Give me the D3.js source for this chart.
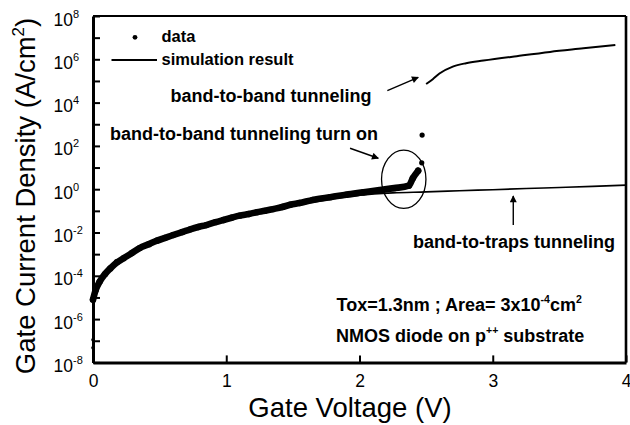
<!DOCTYPE html>
<html>
<head>
<meta charset="utf-8">
<script src="https://cdn.jsdelivr.net/npm/d3@7"></script>
<style>
  body { margin: 0; background: #fff; }
  svg { display: block; }
  text { font-family: "Liberation Sans", Arial, Helvetica, sans-serif; fill: #000; }
</style>
</head>
<body>
<svg id="chart" width="630" height="425"></svg>
<script>
// Measured gate current density (A/cm^2) vs gate voltage (V): dense sweep
const traceV = [0, 0.02, 0.05, 0.09, 0.13, 0.18, 0.23, 0.29, 0.35, 0.42, 0.48, 0.54, 0.60, 0.67, 0.73,
                0.79, 0.85, 0.92, 0.98, 1.04, 1.10, 1.17, 1.23, 1.29, 1.35, 1.42, 1.48, 1.55, 1.65, 1.78,
                1.90, 2.03, 2.15, 2.26, 2.37, 2.40, 2.44];
const traceJ = [7.9e-6, 2.2e-5, 5.4e-5, 1.2e-4, 2.2e-4, 4.2e-4, 6.5e-4, 1.1e-3, 1.9e-3, 2.9e-3, 4.2e-3,
                5.6e-3, 7.6e-3, 1.05e-2, 1.4e-2, 1.8e-2, 2.2e-2, 3.0e-2, 3.8e-2, 4.8e-2, 6.0e-2, 7.2e-2,
                8.7e-2, 0.10, 0.12, 0.15, 0.19, 0.23, 0.32, 0.43, 0.56, 0.72, 0.91, 1.12, 1.45, 3.2, 7.1];
// Separate measured points
const pointV = [0, 0, 2.467, 2.47];
const pointJ = [1.1e-7, 4.7e-8, 16.6, 316];

// Simulation: band-to-traps tunneling
const simTrapsV = [0, 0.05, 0.1, 0.2, 0.35, 0.5, 0.75, 1.0, 1.25, 1.5, 1.75, 2.0, 2.25, 2.5, 2.75,
                   3.0, 3.25, 3.5, 3.75, 4.0];
const simTrapsJ = [1e-5, 5.0e-5, 1.3e-4, 5.0e-4, 1.66e-3, 4.2e-3, 1.38e-2, 3.6e-2, 8.3e-2, 0.17,
                   0.32, 0.53, 0.68, 0.75, 0.85, 0.95, 1.07, 1.2, 1.35, 1.55];
// Simulation: band-to-band tunneling
const simBtbV = [2.50, 2.55, 2.60, 2.70, 2.80, 2.93, 3.18, 3.43, 3.68, 3.92];
const simBtbJ = [7.2e4, 1.2e5, 2.2e5, 4.6e5, 6.6e5, 8.7e5, 1.4e6, 2.2e6, 3.2e6, 4.6e6];

// Axis ticks
const xTicks = [0, 1, 2, 3, 4];
const yExponents = [-8, -7, -6, -5, -4, -3, -2, -1, 0, 1, 2, 3, 4, 5, 6, 7, 8];

const svg = d3.select("#chart");
const x = d3.scaleLinear().domain([0, 4]).range([93, 626]);
const y = d3.scaleLog().domain([1e-8, 1e8]).range([362.4, 16]);

// Arrowhead
svg.append("defs").append("marker")
  .attr("id", "head").attr("viewBox", "0 0 10 10")
  .attr("refX", 9).attr("refY", 5)
  .attr("markerWidth", 9).attr("markerHeight", 7)
  .attr("markerUnits", "userSpaceOnUse")
  .attr("orient", "auto")
  .append("path").attr("d", "M0,0 L10,5 L0,10 z").attr("fill", "#000");

// Simulation curves
const line = d3.line().x(d => x(d[0])).y(d => y(d[1])).curve(d3.curveMonotoneX);
svg.append("path")
  .attr("d", line(d3.zip(simTrapsV, simTrapsJ)))
  .attr("fill", "none").attr("stroke", "#000").attr("stroke-width", 1.6);
svg.append("path")
  .attr("d", line(d3.zip(simBtbV, simBtbJ)))
  .attr("fill", "none").attr("stroke", "#000").attr("stroke-width", 2);

// Measured data: the dense sweep merges into a solid band of dots
const smooth = d3.line().x(d => x(d[0])).y(d => y(d[1])).curve(d3.curveMonotoneX);
svg.append("path")
  .attr("d", smooth(d3.zip(traceV, traceJ)))
  .attr("fill", "none").attr("stroke", "#000").attr("stroke-width", 6.6)
  .attr("stroke-linecap", "round").attr("stroke-linejoin", "round");
svg.append("g").selectAll("circle")
  .data(d3.zip(traceV, traceJ).concat(d3.zip(pointV, pointJ)))
  .join("circle")
  .attr("cx", d => x(d[0])).attr("cy", d => y(d[1]))
  .attr("r", d => (d[1] < 1e-6 ? 1.8 : d[1] > 10 ? 2.6 : 3.2))
  .attr("fill", "#000");

// Axes
const yAxis = d3.axisLeft(y)
  .tickValues(yExponents.map(e => Math.pow(10, e)))
  .tickSize(-7).tickSizeOuter(0).tickFormat("");
const gy = svg.append("g").attr("transform", `translate(${x(0)},0)`).call(yAxis);
gy.select(".domain").attr("stroke-width", 3);
gy.selectAll(".tick line").attr("stroke-width", 2);

const xAxis = d3.axisBottom(x)
  .tickValues(xTicks).tickSize(-7).tickSizeOuter(0).tickPadding(12.5)
  .tickFormat(d3.format("d"));
const gx = svg.append("g").attr("transform", `translate(0,${y(1e-8)})`).call(xAxis);
gx.select(".domain").attr("stroke-width", 3);
gx.selectAll(".tick line").attr("stroke-width", 2);
gx.selectAll(".tick text")
  .attr("font-size", 17.5).style("font-family", '"Liberation Sans", Arial, sans-serif');

// Top and right frame
svg.append("line").attr("x1", x(0)).attr("x2", x(4)).attr("y1", y(1e8)).attr("y2", y(1e8))
  .attr("stroke", "#000").attr("stroke-width", 2.2);
svg.append("line").attr("x1", x(4)).attr("x2", x(4)).attr("y1", y(1e8)).attr("y2", y(1e-8))
  .attr("stroke", "#000").attr("stroke-width", 2.6);

// Decade labels (even exponents)
const yl = svg.append("g").selectAll("text")
  .data(yExponents.filter(e => e % 2 === 0))
  .join("text")
  .attr("x", 53.5).attr("y", e => y(Math.pow(10, e)) + 9.5)
  .attr("font-size", 17.5);
yl.append("tspan").text("10");
yl.append("tspan").attr("font-size", 11).attr("dy", -8).text(e => String(e));

// Axis titles
svg.append("text")
  .attr("transform", "translate(35,196) rotate(-90)")
  .attr("text-anchor", "middle").attr("font-size", 27.5)
  .call(t => {
    t.append("tspan").text("Gate Current Density (A/cm");
    t.append("tspan").attr("font-size", 17).attr("dy", -11).text("2");
    t.append("tspan").attr("dy", 11).text(")");
  });
svg.append("text")
  .attr("x", 350).attr("y", 416.5)
  .attr("text-anchor", "middle").attr("font-size", 27.5)
  .text("Gate Voltage (V)");

// Legend
svg.append("circle").attr("cx", 135).attr("cy", 37.3).attr("r", 2.4).attr("fill", "#000");
svg.append("text").attr("x", 161.5).attr("y", 41.7).attr("font-size", 16.5)
  .attr("font-weight", "bold").text("data");
svg.append("line").attr("x1", 111.5).attr("x2", 157).attr("y1", 60).attr("y2", 60)
  .attr("stroke", "#000").attr("stroke-width", 2);
svg.append("text").attr("x", 161.5).attr("y", 65).attr("font-size", 16.5)
  .attr("font-weight", "bold").text("simulation result");

// Annotations
const bold = (sel) => sel.attr("font-size", 18).attr("font-weight", "bold");
svg.append("text").attr("x", 170.5).attr("y", 101.5).call(bold).text("band-to-band tunneling");
svg.append("text").attr("x", 110).attr("y", 139.5).call(bold).text("band-to-band tunneling turn on");
svg.append("text").attr("x", 413).attr("y", 248.3).call(bold).text("band-to-traps tunneling");

svg.append("text").attr("x", 336.5).attr("y", 311).call(bold).call(t => {
  t.append("tspan").text("Tox=1.3nm ; Area= 3x10");
  t.append("tspan").attr("font-size", 10.5).attr("dy", -8).text("-4");
  t.append("tspan").attr("dy", 8).text("cm");
  t.append("tspan").attr("font-size", 10.5).attr("dy", -8).text("2");
});
svg.append("text").attr("x", 336).attr("y", 342.3).call(bold).call(t => {
  t.append("tspan").text("NMOS diode on p");
  t.append("tspan").attr("font-size", 10.5).attr("dy", -8).text("++");
  t.append("tspan").attr("dy", 8).text(" substrate");
});

// Annotation arrows, positioned in data coordinates
const arrows = [
  [[2.209, 10 ** 4.55], [2.441, 10 ** 5.17]],
  [[1.929, 10 ** 1.89], [2.141, 10 ** 1.43]],
  [[3.154, 10 ** -1.65], [3.154, 10 ** -0.31]]
];
svg.append("g").selectAll("line").data(arrows).join("line")
  .attr("x1", d => x(d[0][0])).attr("y1", d => y(d[0][1]))
  .attr("x2", d => x(d[1][0])).attr("y2", d => y(d[1][1]))
  .attr("stroke", "#000").attr("stroke-width", 1.4)
  .attr("marker-end", "url(#head)");

// Ellipse around the turn-on region
svg.append("ellipse")
  .attr("cx", x(2.332)).attr("cy", y(10 ** 0.46))
  .attr("rx", 22.2).attr("ry", 29.2)
  .attr("fill", "none").attr("stroke", "#000").attr("stroke-width", 1.3);
</script>
</body>
</html>
